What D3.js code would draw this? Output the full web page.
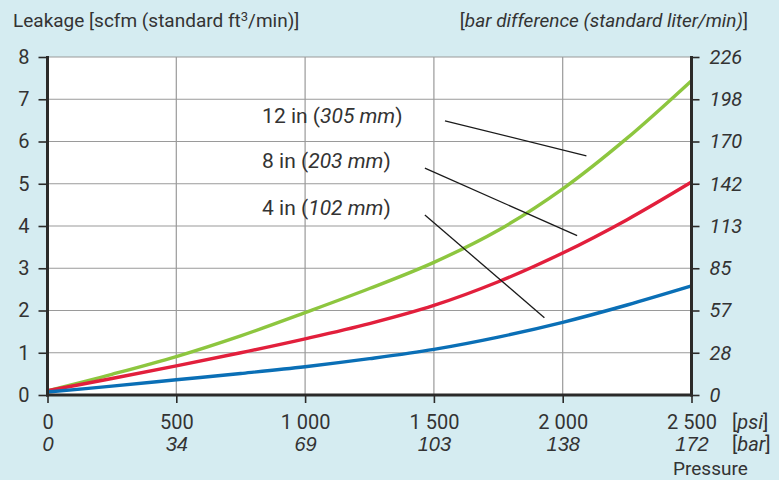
<!DOCTYPE html>
<html><head><meta charset="utf-8">
<script src="https://cdn.jsdelivr.net/npm/d3@7"></script>
<style>
html,body{margin:0;padding:0;background:#d5ecf1;}
svg{display:block;font-family:Roboto,"Noto Sans",sans-serif;}
</style></head>
<body>
<svg id="c" width="779" height="480"></svg>
<script>
// ---- data ----
const pressurePsi = [0,250,500,750,1000,1250,1500,1750,2000,2250,2500];
const leak12in = [0.10,0.49,0.91,1.40,1.95,2.52,3.14,3.90,4.88,6.08,7.44];
const leak8in  = [0.10,0.39,0.69,1.00,1.33,1.69,2.12,2.68,3.36,4.15,5.04];
const leak4in  = [0.07,0.21,0.36,0.51,0.67,0.86,1.08,1.37,1.72,2.13,2.58];
const seriesNames = ["12 in","8 in","4 in"];
const seriesMM = ["305 mm","203 mm","102 mm"];
const seriesColors = ["#8dc63f","#e21f3c","#0a6fb6"];
const leftTicks = [0,1,2,3,4,5,6,7,8];
const rightTickLabels = ["0","28","57","85","113","142","170","198","226"];
const psiTicks = [0,500,1000,1500,2000,2500];
const psiLabels = ["0","500","1 000","1 500","2 000","2 500"];
const barLabels = ["0","34","69","103","138","172"];
// leader lines in data coordinates: [psi1, val1, psi2, val2]
const leaders = [[1543,6.49,2092,5.66],[1465,5.37,2056,3.77],[1465,4.26,1929,1.83]];
const labelAnchor = [[833,6.43],[833,5.37],[833,4.26]]; // psi, value of label baseline

const svg = d3.select("#c");
const x = d3.scaleLinear().domain([0,2500]).range([47.5,691.5]);
const y = d3.scaleLinear().domain([0,8]).range([395,57]);
const yR = d3.scaleLinear().domain([0,8]).range([395,57]);
const ink = "#2b2a29";

// plot background
svg.append("rect").attr("x",x(0)).attr("y",y(8)).attr("width",x(2500)-x(0)).attr("height",y(0)-y(8)).attr("fill","#fff");

// grid
const g = svg.append("g");
g.selectAll("line.h").data(leftTicks.slice(1)).join("line")
  .attr("x1",x(0)).attr("x2",x(2500)).attr("y1",d=>y(d)).attr("y2",d=>y(d))
  .attr("stroke","#9a9a9a").attr("stroke-width",1.2);
g.selectAll("line.v").data(psiTicks.slice(1,-1)).join("line")
  .attr("y1",y(0)).attr("y2",y(8)).attr("x1",d=>x(d)).attr("x2",d=>x(d))
  .attr("stroke","#9a9a9a").attr("stroke-width",1.2);

// curves
const line = d3.line().x((d,i)=>x(pressurePsi[i])).y(d=>y(d)).curve(d3.curveCatmullRom.alpha(0.5));
[leak12in,leak8in,leak4in].forEach((s,i)=>{
  svg.append("path").attr("d",line(s)).attr("fill","none").attr("stroke",seriesColors[i]).attr("stroke-width",3.4);
});

// leader lines
svg.selectAll("line.ld").data(leaders).join("line")
  .attr("x1",d=>x(d[0])).attr("y1",d=>y(d[1])).attr("x2",d=>x(d[2])).attr("y2",d=>y(d[3]))
  .attr("stroke","#1a1a1a").attr("stroke-width",1.3);

// labels
seriesNames.forEach((n,i)=>{
  const t = svg.append("text").attr("x",x(labelAnchor[i][0])).attr("y",y(labelAnchor[i][1]))
    .attr("font-size",21).attr("fill","#333");
  t.append("tspan").text(n+" (");
  t.append("tspan").attr("font-style","italic").text(seriesMM[i]);
  t.append("tspan").text(")");
});

// axes
const axL = svg.append("g").attr("transform",`translate(${x(0)},0)`)
  .call(d3.axisLeft(y).tickValues(leftTicks).tickSize(9).tickPadding(9).tickFormat(d3.format("d")));
const axR = svg.append("g").attr("transform",`translate(${x(2500)},0)`)
  .call(d3.axisRight(yR).tickValues(leftTicks).tickSize(8).tickPadding(10).tickFormat((d,i)=>rightTickLabels[i]));
const axB = svg.append("g").attr("transform",`translate(0,${y(0)})`)
  .call(d3.axisBottom(x).tickValues(psiTicks).tickSize(8).tickPadding(8).tickFormat((d,i)=>psiLabels[i]));
[axL,axR,axB].forEach(a=>{
  a.select(".domain").remove();
  a.selectAll(".tick line").attr("stroke",ink).attr("stroke-width",1.6);
  a.selectAll("text").attr("font-size",20).attr("fill","#333").attr("font-family","Roboto");
});
axR.selectAll("text").attr("font-style","italic");
axB.selectAll("text").attr("dy","0").attr("y",34);
// bar row
axB.selectAll(".tick").append("text").attr("y",56).attr("text-anchor","middle")
  .attr("font-size",20).attr("fill","#333").attr("font-style","italic").text((d,i)=>barLabels[i]);

// thick axis lines
svg.append("line").attr("x1",x(0)).attr("x2",x(0)).attr("y1",y(8)-1).attr("y2",y(0)+1.5).attr("stroke",ink).attr("stroke-width",3);
svg.append("line").attr("x1",x(2500)).attr("x2",x(2500)).attr("y1",y(8)-1).attr("y2",y(0)+1.5).attr("stroke",ink).attr("stroke-width",3);
svg.append("line").attr("x1",x(0)-1.5).attr("x2",x(2500)+1.5).attr("y1",y(0)).attr("y2",y(0)).attr("stroke",ink).attr("stroke-width",3);

// unit labels
const u1 = svg.append("text").attr("x",732).attr("y",429).attr("font-size",20).attr("fill","#333");
u1.append("tspan").text("["); u1.append("tspan").attr("font-style","italic").text("psi"); u1.append("tspan").text("]");
const u2 = svg.append("text").attr("x",732).attr("y",451).attr("font-size",20).attr("fill","#333");
u2.append("tspan").text("["); u2.append("tspan").attr("font-style","italic").text("bar"); u2.append("tspan").text("]");
svg.append("text").attr("x",673).attr("y",475).attr("font-size",19).attr("fill","#333").text("Pressure");

// titles
const t1 = svg.append("text").attr("x",13).attr("y",27).attr("font-size",19).attr("fill","#333");
t1.append("tspan").text("Leakage [scfm (standard ft");
t1.append("tspan").attr("font-size",13).attr("dy",-6).text("3");
t1.append("tspan").attr("dy",6).text("/min)]");
const t2 = svg.append("text").attr("x",748).attr("y",27).attr("text-anchor","end").attr("font-size",19).attr("fill","#333");
t2.append("tspan").text("[");
t2.append("tspan").attr("font-style","italic").text("bar difference (standard liter/min)");
t2.append("tspan").text("]");
</script>
</body></html>
